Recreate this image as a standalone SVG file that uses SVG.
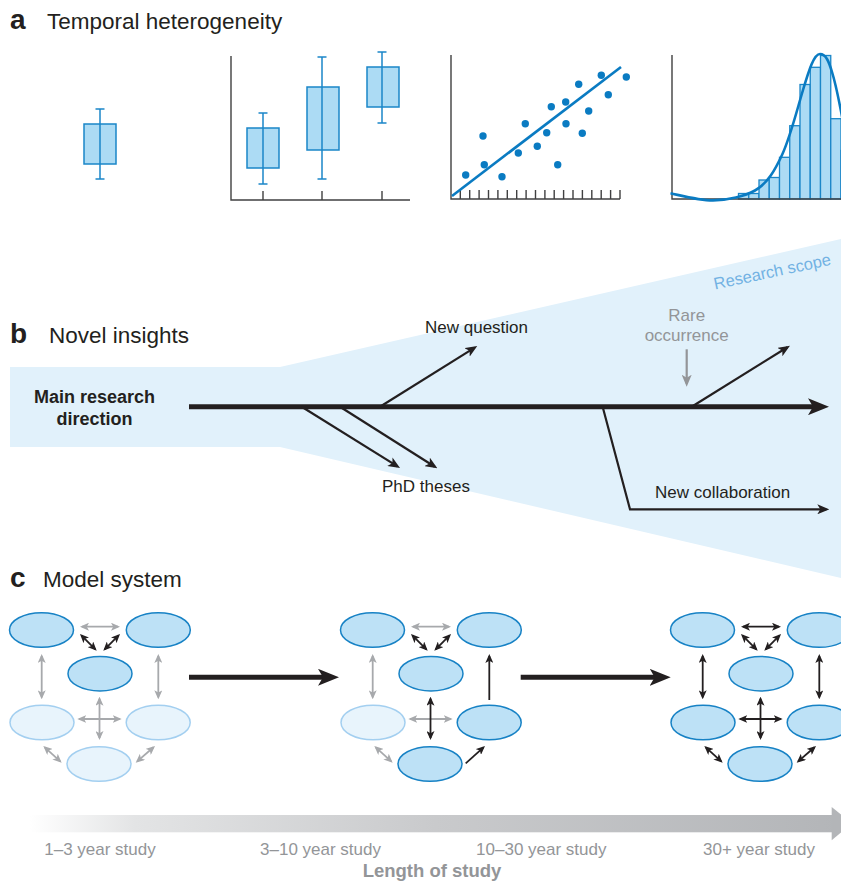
<svg xmlns="http://www.w3.org/2000/svg" width="841" height="886" viewBox="0 0 841 886">
<style>
text{font-family:"Liberation Sans",Arial,sans-serif;fill:#231f20}
.title{font-size:22.5px}
.letter{font-size:28px;font-weight:bold}
.lbl{font-size:17px}
.gray{fill:#939598}
.axis{stroke:#404041;stroke-width:1.4;fill:none}
.box{fill:#acdbf4;stroke:#1a86c8;stroke-width:1.5}
.whisk{stroke:#1a86c8;stroke-width:1.5;fill:none}
.bar{fill:#acdbf4;stroke:#1a86c8;stroke-width:1.3}
.dot{fill:#0a7bc2}
.fit{stroke:#0a7bc2;stroke-width:2.6;fill:none}
.thin{stroke:#231f20;stroke-width:2.2;fill:none}
.thick{stroke:#231f20;stroke-width:5;fill:none}
.ggr{stroke:#939598;stroke-width:2.2;fill:none}
.nf{fill:#bde1f6;stroke:#1782c5;stroke-width:1.5}
.nl{fill:#e8f4fc;stroke:#a3cff0;stroke-width:1.5}
.cb{stroke:#231f20;stroke-width:1.8;fill:none;marker-start:url(#sB);marker-end:url(#sB)}
.cg{stroke:#a7a9ac;stroke-width:1.8;fill:none;marker-start:url(#sG);marker-end:url(#sG)}
.cb1{stroke:#231f20;stroke-width:1.8;fill:none;marker-end:url(#sB)}
</style>
<defs>
<marker id="ahB" viewBox="0 0 12 10" refX="9" refY="5" markerWidth="12" markerHeight="10" markerUnits="userSpaceOnUse" orient="auto"><path d="M0,0 L12,5 L0,10 L3,5 Z" fill="#231f20"/></marker>
<marker id="ahG" viewBox="0 0 12 10" refX="9" refY="5" markerWidth="12" markerHeight="10" markerUnits="userSpaceOnUse" orient="auto"><path d="M0,0 L12,5 L0,10 L3,5 Z" fill="#939598"/></marker>
<marker id="ahBig" viewBox="0 0 21 17" refX="13" refY="8.5" markerWidth="21" markerHeight="17" markerUnits="userSpaceOnUse" orient="auto"><path d="M0,0 L21,8.5 L0,17 L5,8.5 Z" fill="#231f20"/></marker>
<marker id="sB" viewBox="0 0 9 8" refX="7" refY="4" markerWidth="9" markerHeight="8" markerUnits="userSpaceOnUse" orient="auto-start-reverse"><path d="M0,0 L9,4 L0,8 L2.2,4 Z" fill="#231f20"/></marker>
<marker id="sG" viewBox="0 0 9 8" refX="7" refY="4" markerWidth="9" markerHeight="8" markerUnits="userSpaceOnUse" orient="auto-start-reverse"><path d="M0,0 L9,4 L0,8 L2.2,4 Z" fill="#a7a9ac"/></marker>
<linearGradient id="lenGrad" gradientUnits="userSpaceOnUse" x1="30" y1="0" x2="841" y2="0">
<stop offset="0" stop-color="#ffffff"/>
<stop offset="0.13" stop-color="#e3e4e5"/>
<stop offset="0.5" stop-color="#c9cacc"/>
<stop offset="1" stop-color="#b3b5b8"/>
</linearGradient>
</defs>

<!-- Panel a -->
<g id="panel-a">
<text class="letter" x="10" y="29">a</text>
<text class="title" x="47" y="29">Temporal heterogeneity</text>
<g id="single-box">
<line class="whisk" x1="100" y1="109" x2="100" y2="179"/>
<line class="whisk" x1="95.5" y1="109" x2="104.5" y2="109"/>
<line class="whisk" x1="95.5" y1="179" x2="104.5" y2="179"/>
<rect class="box" x="84" y="124" width="32" height="40"/>
<line class="whisk" x1="100" y1="124" x2="100" y2="164"/>
</g>
<g id="boxplot-chart">
<path class="axis" d="M231,56 V200 H410 M263,191 V200 M322,191 V200 M382,191 V200"/>
<line class="whisk" x1="263" y1="113" x2="263" y2="184"/>
<line class="whisk" x1="258.5" y1="113" x2="267.5" y2="113"/>
<line class="whisk" x1="258.5" y1="184" x2="267.5" y2="184"/>
<rect class="box" x="247" y="128" width="32" height="40"/>
<line class="whisk" x1="263" y1="128" x2="263" y2="168"/>
<line class="whisk" x1="322" y1="57" x2="322" y2="179"/>
<line class="whisk" x1="317.5" y1="57" x2="326.5" y2="57"/>
<line class="whisk" x1="317.5" y1="179" x2="326.5" y2="179"/>
<rect class="box" x="307" y="87" width="32" height="63"/>
<line class="whisk" x1="322" y1="87" x2="322" y2="150"/>
<line class="whisk" x1="382" y1="52" x2="382" y2="123"/>
<line class="whisk" x1="377.5" y1="52" x2="386.5" y2="52"/>
<line class="whisk" x1="377.5" y1="123" x2="386.5" y2="123"/>
<rect class="box" x="367" y="67" width="32" height="40"/>
<line class="whisk" x1="382" y1="67" x2="382" y2="107"/>
</g>
<g id="scatter-chart">
<path class="axis" d="M451,55 V199 H620 M460.3,190 V199 M469.7,190 V199 M479.1,190 V199 M488.5,190 V199 M497.9,190 V199 M507.3,190 V199 M516.7,190 V199 M526.1,190 V199 M535.5,190 V199 M544.9,190 V199 M554.2,190 V199 M563.6,190 V199 M573,190 V199 M582.4,190 V199 M591.8,190 V199 M601.2,190 V199 M610.6,190 V199 M620,190 V199"/>
<line class="fit" x1="452" y1="196" x2="621" y2="67"/>
<circle class="dot" cx="465.7" cy="175" r="3.7"/>
<circle class="dot" cx="483" cy="136" r="3.7"/>
<circle class="dot" cx="484.3" cy="164.7" r="3.7"/>
<circle class="dot" cx="502" cy="176.7" r="3.7"/>
<circle class="dot" cx="518.3" cy="153" r="3.7"/>
<circle class="dot" cx="525.3" cy="123.7" r="3.7"/>
<circle class="dot" cx="537.3" cy="146.3" r="3.7"/>
<circle class="dot" cx="546.7" cy="132.7" r="3.7"/>
<circle class="dot" cx="551.3" cy="106.7" r="3.7"/>
<circle class="dot" cx="557.7" cy="164.7" r="3.7"/>
<circle class="dot" cx="565.7" cy="102" r="3.7"/>
<circle class="dot" cx="566" cy="123.7" r="3.7"/>
<circle class="dot" cx="578.7" cy="84.3" r="3.7"/>
<circle class="dot" cx="582.3" cy="133.3" r="3.7"/>
<circle class="dot" cx="588.7" cy="111" r="3.7"/>
<circle class="dot" cx="601.3" cy="75.3" r="3.7"/>
<circle class="dot" cx="608.3" cy="94.7" r="3.7"/>
<circle class="dot" cx="626.3" cy="77" r="3.7"/>
</g>
<g id="histogram-chart">
<rect class="bar" x="738.5" y="193.5" width="10.25" height="5.5"/>
<rect class="bar" x="748.75" y="193.5" width="10.25" height="5.5"/>
<rect class="bar" x="759" y="180" width="10.25" height="19"/>
<rect class="bar" x="769.25" y="177.5" width="10.25" height="21.5"/>
<rect class="bar" x="779.5" y="157.3" width="10.25" height="41.7"/>
<rect class="bar" x="789.75" y="125.7" width="10.25" height="73.3"/>
<rect class="bar" x="800" y="84.5" width="10.25" height="114.5"/>
<rect class="bar" x="810.25" y="67.3" width="10.25" height="131.7"/>
<rect class="bar" x="820.5" y="55.5" width="10.25" height="143.5"/>
<rect class="bar" x="830.75" y="118.7" width="10.25" height="80.3"/>
<rect class="bar" x="841" y="150.5" width="10.25" height="48.5"/>
<path class="axis" d="M672,55 V199 H841"/>
<path class="fit" d="M670.5,193.3 C685,196.5 700,200.5 713,200.4 C728,200.3 745,196 755,190.5 C768,183 775,170 782,155 C790,138 797,110 803,90 C809,70 814,54 820,54 C826,54 829,62 832,72 C836,85 839,100 843,122"/>
</g>
</g>

<!-- Panel b -->
<g id="panel-b">
<polygon id="research-scope-area" points="10,367 280,367 841,239 841,578 280,447 10,447" fill="#e1f1fb"/>
<text x="715" y="289.5" transform="rotate(-12 715 289.5)" style="font-size:16.5px;fill:#72b2e3">Research scope</text>
<text class="letter" x="10" y="342.5">b</text>
<text class="title" x="49" y="342.5">Novel insights</text>
<g id="main-direction">
<text x="94.5" y="403" text-anchor="middle" style="font-size:18px;font-weight:bold">Main research</text>
<text x="94.5" y="425" text-anchor="middle" style="font-size:18px;font-weight:bold">direction</text>
</g>
<g id="b-connectors">
<line class="thick" x1="189" y1="406.7" x2="821" y2="406.7" marker-end="url(#ahBig)"/>
<line class="thin" x1="301.7" y1="406.7" x2="397.5" y2="466.4" marker-end="url(#ahB)"/>
<line class="thin" x1="340" y1="406.7" x2="434.8" y2="466.7" marker-end="url(#ahB)"/>
<line class="thin" x1="380" y1="406.7" x2="474.7" y2="347.6" marker-end="url(#ahB)"/>
<line class="thin" x1="691.7" y1="406.7" x2="787.4" y2="347.3" marker-end="url(#ahB)"/>
<polyline class="thin" points="602.7,407 630,509.3 826.3,509.3" marker-end="url(#ahB)"/>
<line class="ggr" x1="686.7" y1="349.3" x2="686.7" y2="383.7" marker-end="url(#ahG)"/>
</g>
<g id="label-new-question"><text class="lbl" x="425" y="333.3">New question</text></g>
<g id="label-phd-theses"><text class="lbl" x="382" y="491.7">PhD theses</text></g>
<g id="label-rare-occurrence">
<text class="lbl gray" x="686.7" y="320.7" text-anchor="middle">Rare</text>
<text class="lbl gray" x="686.7" y="340.7" text-anchor="middle">occurrence</text>
</g>
<g id="label-new-collaboration"><text class="lbl" x="655" y="498.3">New collaboration</text></g>
</g>

<!-- Panel c -->
<g id="panel-c">
<text class="letter" x="10" y="587.3">c</text>
<text class="title" x="43" y="587.3">Model system</text>

<g id="stage1">
<g id="s1-tl"><ellipse class="nf" cx="41.5" cy="630" rx="32" ry="17.3"/></g>
<g id="s1-tr"><ellipse class="nf" cx="158.3" cy="630" rx="32" ry="17.3"/></g>
<g id="s1-m"><ellipse class="nf" cx="100" cy="673.7" rx="32" ry="17.3"/></g>
<g id="s1-l"><ellipse class="nl" cx="42" cy="722.5" rx="32" ry="17.3"/></g>
<g id="s1-r"><ellipse class="nl" cx="158.2" cy="722.5" rx="32" ry="17.3"/></g>
<g id="s1-b"><ellipse class="nl" cx="99" cy="764" rx="32" ry="17.3"/></g>
</g>
<g id="stage2" transform="translate(331 0)">
<g id="s2-tl"><ellipse class="nf" cx="41.5" cy="630" rx="32" ry="17.3"/></g>
<g id="s2-tr"><ellipse class="nf" cx="158.3" cy="630" rx="32" ry="17.3"/></g>
<g id="s2-m"><ellipse class="nf" cx="100" cy="673.7" rx="32" ry="17.3"/></g>
<g id="s2-l"><ellipse class="nl" cx="42" cy="722.5" rx="32" ry="17.3"/></g>
<g id="s2-r"><ellipse class="nf" cx="158.2" cy="722.5" rx="32" ry="17.3"/></g>
<g id="s2-b"><ellipse class="nf" cx="99" cy="764" rx="32" ry="17.3"/></g>
</g>
<g id="stage3" transform="translate(661 0)">
<g id="s3-tl"><ellipse class="nf" cx="41.5" cy="630" rx="32" ry="17.3"/></g>
<g id="s3-tr"><ellipse class="nf" cx="158.3" cy="630" rx="32" ry="17.3"/></g>
<g id="s3-m"><ellipse class="nf" cx="100" cy="673.7" rx="32" ry="17.3"/></g>
<g id="s3-l"><ellipse class="nf" cx="42" cy="722.5" rx="32" ry="17.3"/></g>
<g id="s3-r"><ellipse class="nf" cx="158.2" cy="722.5" rx="32" ry="17.3"/></g>
<g id="s3-b"><ellipse class="nf" cx="99" cy="764" rx="32" ry="17.3"/></g>
</g>

<g id="c-connectors">
<line class="thick" x1="189" y1="677.3" x2="331" y2="677.3" marker-end="url(#ahBig)"/>
<line class="thick" x1="520.7" y1="677.3" x2="662.7" y2="677.3" marker-end="url(#ahBig)"/>
<g id="stage1-links">
<path class="cg" d="M82,626.7 H118"/>
<path class="cb" d="M81.4,635.4 L95.3,649.3"/>
<path class="cb" d="M118.6,635.4 L104.7,649.3"/>
<path class="cg" d="M41.7,656 V697.3"/>
<path class="cg" d="M158.3,656 V697.3"/>
<path class="cg" d="M99.5,698.7 V738"/>
<path class="cg" d="M79.3,719 H119.7"/>
<path class="cg" d="M44.8,747.3 L60.2,761.4"/>
<path class="cg" d="M153.5,747.3 L137.2,761.4"/>
</g>
<g id="stage2-links" transform="translate(331 0)">
<path class="cg" d="M82,626.7 H118"/>
<path class="cb" d="M81.4,635.4 L95.3,649.3"/>
<path class="cb" d="M118.6,635.4 L104.7,649.3"/>
<path class="cg" d="M41.7,656 V697.3"/>
<path class="cb1" d="M158.3,700 V656"/>
<path class="cg" d="M79.3,719 H119.7"/>
<path class="cb" d="M99.5,698.7 V738"/>
<path class="cg" d="M44.8,747.3 L60.2,761.4"/>
<path class="cb1" d="M134.7,763.3 L152.5,747.3"/>
</g>
<g id="stage3-links" transform="translate(661 0)">
<path class="cb" d="M82,626.7 H118"/>
<path class="cb" d="M81.4,635.4 L95.3,649.3"/>
<path class="cb" d="M118.6,635.4 L104.7,649.3"/>
<path class="cb" d="M41.7,656 V697.3"/>
<path class="cb" d="M158.3,656 V697.3"/>
<path class="cb" d="M99.5,698.7 V738"/>
<path class="cb" d="M79.3,719 H119.7"/>
<path class="cb" d="M44.8,747.3 L60.2,761.4"/>
<path class="cb" d="M153.5,747.3 L137.2,761.4"/>
</g>
</g>
</g>

<!-- Length of study -->
<g id="length-axis">
<rect x="20" y="815" width="812" height="17.3" fill="url(#lenGrad)"/>
<polygon points="831.7,807 852,823.6 831.7,840.2" fill="#b3b5b8"/>
<text class="lbl gray" x="100" y="855" text-anchor="middle">1–3 year study</text>
<text class="lbl gray" x="320.5" y="855" text-anchor="middle">3–10 year study</text>
<text class="lbl gray" x="541.3" y="855" text-anchor="middle">10–30 year study</text>
<text class="lbl gray" x="759" y="855" text-anchor="middle">30+ year study</text>
<text class="gray" x="432" y="877" text-anchor="middle" style="font-size:18.5px;font-weight:bold">Length of study</text>
</g>
</svg>
